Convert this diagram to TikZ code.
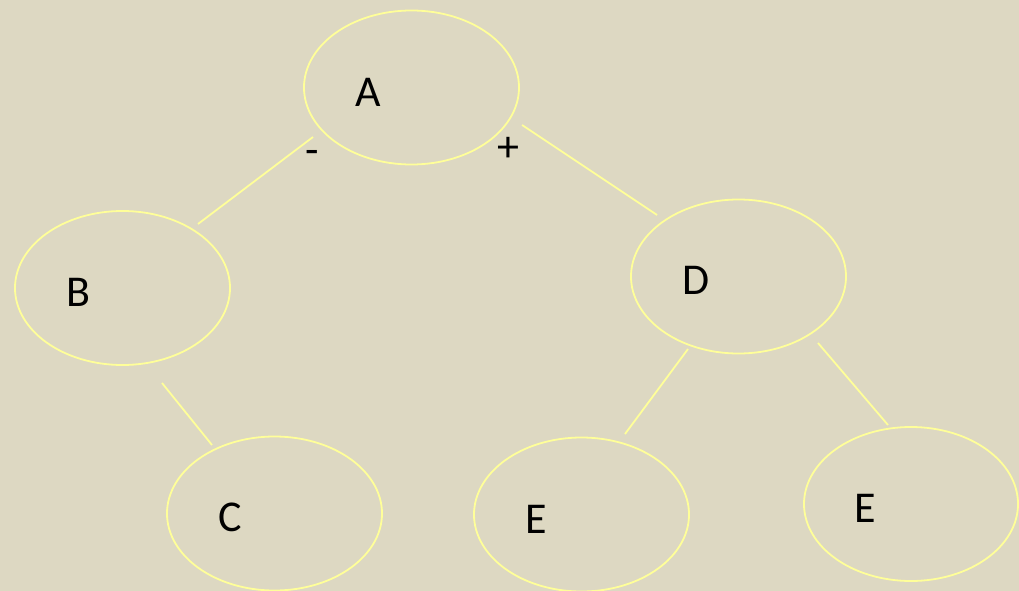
\documentclass[tikz,border=0pt]{standalone}
\usepackage{fontspec}
\setmainfont{Carlito}
\definecolor{bg}{HTML}{DDD8C2}
\definecolor{edge}{HTML}{FFFF99}
\begin{document}
\begin{tikzpicture}[x=1pt,y=-1pt,
  oval/.style={draw=edge,line width=1.8pt,ellipse,inner sep=0pt},
  lbl/.style={font=\fontsize{44}{50}\selectfont,text=black,inner sep=0pt},
  link/.style={draw=edge,line width=1.8pt}]
\fill[bg] (0,0) rectangle (1019,591);
\useasboundingbox (0,0) rectangle (1019,591);
\draw[edge,line width=1.8pt] (411.5,87.5) ellipse [x radius=107.5, y radius=77];
\draw[edge,line width=1.8pt] (122.5,288) ellipse [x radius=107.5, y radius=77];
\draw[edge,line width=1.8pt] (738.5,276.5) ellipse [x radius=107.5, y radius=77];
\draw[edge,line width=1.8pt] (274.5,513.5) ellipse [x radius=107.5, y radius=77];
\draw[edge,line width=1.8pt] (581.5,514.5) ellipse [x radius=107.5, y radius=77];
\draw[edge,line width=1.8pt] (911,504) ellipse [x radius=107, y radius=77];
\node[lbl] (A) at (368,92) {A};
\node[lbl] (B) at (78,292) {B};
\node[lbl] (C) at (230,517) {C};
\node[lbl] (D) at (696,280) {D};
\node[lbl] (E1) at (536,519) {E};
\node[lbl] (E2) at (865,508) {E};
\node[lbl] (minus) at (312,157) {-};
\node[lbl] (plus) at (508,149) {+};
\coordinate (ab1) at (313,137); \coordinate (ab2) at (198,224);
\coordinate (ad1) at (522,125); \coordinate (ad2) at (657,215);
\coordinate (bc1) at (162,383); \coordinate (bc2) at (212,445);
\coordinate (de1) at (688,349); \coordinate (de2) at (625,434);
\coordinate (dd1) at (818,343); \coordinate (dd2) at (888,425);
\draw[link] (ab1) -- (ab2);
\draw[link] (ad1) -- (ad2);
\draw[link] (bc1) -- (bc2);
\draw[link] (de1) -- (de2);
\draw[link] (dd1) -- (dd2);
\end{tikzpicture}
\end{document}
